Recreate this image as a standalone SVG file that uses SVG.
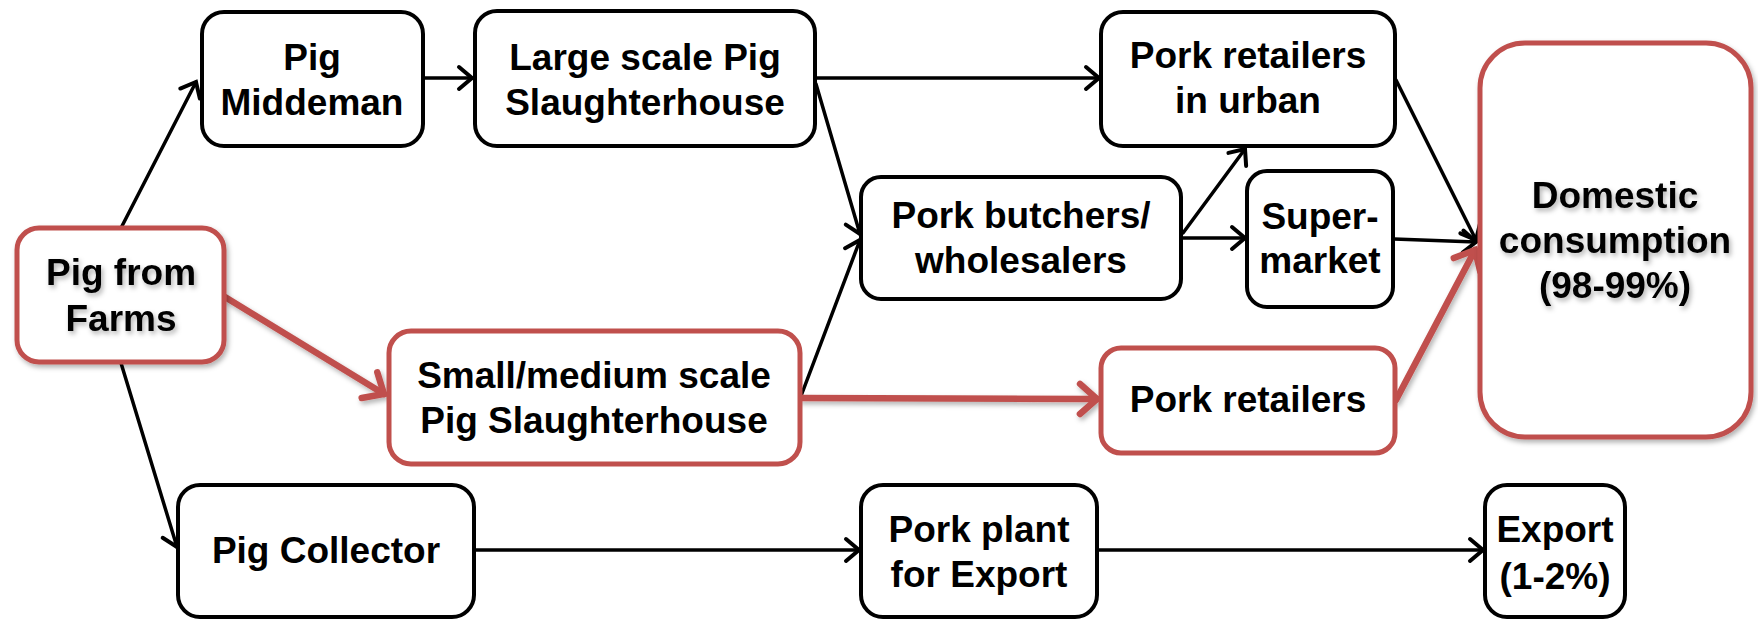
<svg xmlns="http://www.w3.org/2000/svg" width="1758" height="619" viewBox="0 0 1758 619">
<style>
.box{fill:#fff;stroke:#000;stroke-width:4}
.rbox{fill:#fff;stroke:#C0504D;stroke-width:5}
.t{font-family:"Liberation Sans",Arial,sans-serif;font-weight:bold;font-size:37px;fill:#000;text-anchor:middle}
.c{fill:none;stroke:#000;stroke-width:3.5;stroke-linecap:round}
.rc{fill:none;stroke:#C0504D;stroke-width:6.5;stroke-linecap:round}
</style>
<defs>
<marker id="ah" markerUnits="userSpaceOnUse" markerWidth="30" markerHeight="30" viewBox="-20 -15 30 30" refX="0" refY="0" orient="auto">
<path d="M-13,-11 L0,0 L-13,11" fill="none" stroke="#000" stroke-width="4" stroke-linecap="round" stroke-linejoin="miter"/>
</marker>
<marker id="rah" markerUnits="userSpaceOnUse" markerWidth="40" markerHeight="40" viewBox="-25 -20 40 40" refX="0" refY="0" orient="auto">
<path d="M-17,-15 L0,0 L-17,15" fill="none" stroke="#C0504D" stroke-width="6.5" stroke-linecap="round" stroke-linejoin="miter"/>
</marker>
<filter id="sh" x="-10%" y="-10%" width="130%" height="130%">
<feDropShadow dx="2" dy="3" stdDeviation="2.5" flood-color="#000" flood-opacity="0.3"/>
</filter>
</defs>
<g id="connectors">
<line class="c" x1="121" y1="228" x2="196" y2="82" marker-end="url(#ah)"/>
<line class="c" x1="424" y1="78" x2="472" y2="78" marker-end="url(#ah)"/>
<line class="c" x1="816" y1="78" x2="1099" y2="78" marker-end="url(#ah)"/>
<line class="c" x1="816" y1="84" x2="860" y2="234" marker-end="url(#ah)"/>
<line class="c" x1="801" y1="396" x2="860" y2="240" marker-end="url(#ah)"/>
<line class="c" x1="1183" y1="233" x2="1245" y2="149" marker-end="url(#ah)"/>
<line class="c" x1="1183" y1="238" x2="1245" y2="238" marker-end="url(#ah)"/>
<line class="c" x1="1396" y1="80" x2="1476" y2="240" marker-end="url(#ah)"/>
<line class="c" x1="1394" y1="239" x2="1476" y2="242" marker-end="url(#ah)"/>
<line class="c" x1="121" y1="363" x2="177" y2="547" marker-end="url(#ah)"/>
<line class="c" x1="476" y1="550" x2="859" y2="550" marker-end="url(#ah)"/>
<line class="c" x1="1098" y1="550" x2="1483" y2="550" marker-end="url(#ah)"/>
<g filter="url(#sh)">
<line class="rc" x1="225" y1="297" x2="384" y2="394" marker-end="url(#rah)"/>
<line class="rc" x1="801" y1="398" x2="1097" y2="399" marker-end="url(#rah)"/>
<line class="rc" x1="1396" y1="400" x2="1475" y2="250" marker-end="url(#rah)"/>
</g>
</g>
<g id="farms"><rect class="rbox" x="17" y="228" width="207" height="134" rx="22" filter="url(#sh)"/>
<text class="t" x="121" y="285" filter="url(#sh)">Pig from</text><text class="t" x="121" y="331" filter="url(#sh)">Farms</text></g>
<g id="middeman"><rect class="box" x="202" y="12" width="221" height="134" rx="22"/>
<text class="t" x="312" y="70">Pig</text><text class="t" x="312" y="115">Middeman</text></g>
<g id="large"><rect class="box" x="475" y="11" width="340" height="135" rx="22"/>
<text class="t" x="645" y="70">Large scale Pig</text><text class="t" x="645" y="115">Slaughterhouse</text></g>
<g id="urban"><rect class="box" x="1101" y="12" width="294" height="134" rx="22"/>
<text class="t" x="1248" y="68">Pork retailers</text><text class="t" x="1248" y="113">in urban</text></g>
<g id="butchers"><rect class="box" x="861" y="177" width="320" height="122" rx="20"/>
<text class="t" x="1021" y="228">Pork butchers/</text><text class="t" x="1021" y="273">wholesalers</text></g>
<g id="supermarket"><rect class="box" x="1247" y="171" width="146" height="136" rx="20"/>
<text class="t" x="1320" y="229">Super-</text><text class="t" x="1320" y="273">market</text></g>
<g id="domestic"><rect class="rbox" x="1480" y="43" width="271" height="394" rx="45" stroke-width="6" filter="url(#sh)"/>
<text class="t" x="1615" y="208" filter="url(#sh)">Domestic</text><text class="t" x="1615" y="253" filter="url(#sh)">consumption</text><text class="t" x="1615" y="298" filter="url(#sh)">(98-99%)</text></g>
<g id="small"><rect class="rbox" x="389" y="331" width="411" height="133" rx="22"/>
<text class="t" x="594" y="388">Small/medium scale</text><text class="t" x="594" y="433">Pig Slaughterhouse</text></g>
<g id="retailers"><rect class="rbox" x="1101" y="348" width="294" height="105" rx="20"/>
<text class="t" x="1248" y="412">Pork retailers</text></g>
<g id="collector"><rect class="box" x="178" y="485" width="296" height="132" rx="22"/>
<text class="t" x="326" y="563">Pig Collector</text></g>
<g id="plant"><rect class="box" x="861" y="485" width="236" height="132" rx="22"/>
<text class="t" x="979" y="542">Pork plant</text><text class="t" x="979" y="587">for Export</text></g>
<g id="export"><rect class="box" x="1485" y="485" width="140" height="132" rx="22"/>
<text class="t" x="1555" y="542">Export</text><text class="t" x="1555" y="589">(1-2%)</text></g>
</svg>
